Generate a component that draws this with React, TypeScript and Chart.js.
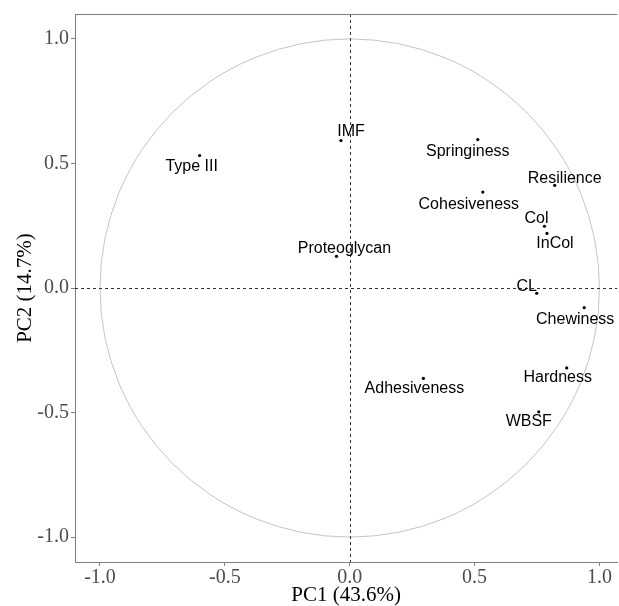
import React, { useEffect, useRef } from "react";
import { Chart, registerables } from "chart.js";

Chart.register(...registerables);

const variableNames = [
  "Type III", "IMF", "Proteoglycan", "Springiness", "Resilience", "Cohesiveness",
  "Col", "InCol", "CL", "Chewiness", "Hardness", "Adhesiveness", "WBSF",
];
const pc1Loadings = [-0.601, -0.035, -0.053, 0.513, 0.821, 0.533, 0.78, 0.79, 0.749, 0.939, 0.869, 0.295, 0.757];
const pc2Loadings = [0.532, 0.592, 0.127, 0.596, 0.412, 0.385, 0.248, 0.219, -0.021, -0.079, -0.321, -0.363, -0.497];
const axisTicks = [-1.0, -0.5, 0.0, 0.5, 1.0];
const xTitle = "PC1 (43.6%)";
const yTitle = "PC2 (14.7%)";

// label placement offsets in pixels (repelled labels), kept apart from data
const labelOffsets: [number, number][] = [
  [-8, 11], [10, -9], [8, -8], [-10, 12], [10, -7], [-14, 12],
  [-8, -8], [8, 10], [-10, -7], [-9, 12], [-9, 10], [-9, 10], [-10, 10],
];

export default function App() {
  const ref = useRef<HTMLCanvasElement | null>(null);
  useEffect(() => {
    if (!ref.current) return;
    const points = pc1Loadings.map((x, i) => ({ x, y: pc2Loadings[i] }));

    const backgroundPlugin = {
      id: "pcaDecor",
      beforeDatasetsDraw(chart: any) {
        const { ctx, chartArea, scales } = chart;
        const xs = scales.x, ys = scales.y;
        ctx.save();
        ctx.beginPath();
        ctx.rect(chartArea.left, chartArea.top, chartArea.right - chartArea.left, chartArea.bottom - chartArea.top);
        ctx.clip();
        // unit circle
        const cx = xs.getPixelForValue(0), cy = ys.getPixelForValue(0);
        const rx = Math.abs(xs.getPixelForValue(1) - cx);
        const ry = Math.abs(ys.getPixelForValue(1) - cy);
        ctx.beginPath();
        ctx.ellipse(cx, cy, rx, ry, 0, 0, Math.PI * 2);
        ctx.strokeStyle = "#c4c4c4";
        ctx.lineWidth = 1;
        ctx.stroke();
        // dashed zero lines
        ctx.setLineDash([3, 3]);
        ctx.strokeStyle = "#333333";
        ctx.lineWidth = 1;
        ctx.beginPath();
        ctx.moveTo(Math.round(cx) + 0.5, chartArea.top);
        ctx.lineTo(Math.round(cx) + 0.5, chartArea.bottom);
        ctx.moveTo(chartArea.left, Math.round(cy) + 0.5);
        ctx.lineTo(chartArea.right, Math.round(cy) + 0.5);
        ctx.stroke();
        ctx.restore();
        // top border
        ctx.save();
        ctx.strokeStyle = "#7f7f7f";
        ctx.lineWidth = 1;
        ctx.beginPath();
        ctx.moveTo(chartArea.left, chartArea.top + 0.5);
        ctx.lineTo(chartArea.right, chartArea.top + 0.5);
        ctx.stroke();
        ctx.restore();
      },
      afterDatasetsDraw(chart: any) {
        const { ctx } = chart;
        const meta = chart.getDatasetMeta(0);
        ctx.save();
        ctx.font = '16px "Liberation Sans", Arial, sans-serif';
        ctx.fillStyle = "#000000";
        ctx.textAlign = "center";
        ctx.textBaseline = "middle";
        meta.data.forEach((el: any, i: number) => {
          const [dx, dy] = labelOffsets[i];
          ctx.fillText(variableNames[i], el.x + dx, el.y + dy);
        });
        ctx.restore();
      },
    };

    const tickFont = { family: '"Liberation Serif", "Times New Roman", serif', size: 20 };
    const titleFont = { family: '"Liberation Serif", "Times New Roman", serif', size: 21, lineHeight: 1 };

    const chart = new Chart(ref.current, {
      type: "scatter",
      data: {
        datasets: [
          {
            data: points,
            pointRadius: 1.6,
            pointBackgroundColor: "#000000",
            pointBorderColor: "#000000",
            pointBorderWidth: 0,
            pointHoverRadius: 1.6,
          },
        ],
      },
      options: {
        animation: false,
        responsive: true,
        maintainAspectRatio: false,
        layout: { padding: { left: 0, top: 12, right: 0, bottom: 0 } },
        plugins: { legend: { display: false }, tooltip: { enabled: false } },
        scales: {
          x: {
            type: "linear",
            min: -1.1,
            max: 1.072,
            afterBuildTicks: (s: any) => { s.ticks = axisTicks.map((v) => ({ value: v })); },
            afterFit: (s: any) => { s.height = 44; },
            ticks: {
              font: tickFont,
              color: "#4d4d4d",
              padding: 0,
              maxRotation: 0,
              callback: (v: any) => Number(v).toFixed(1),
            },
            grid: { drawOnChartArea: false, drawTicks: true, tickLength: 4, color: "#7f7f7f" },
            border: { display: true, color: "#7f7f7f", width: 1 },
            title: { display: true, text: xTitle, font: titleFont, color: "#000000", padding: { top: 0, bottom: 0 } },
          },
          y: {
            type: "linear",
            min: -1.1,
            max: 1.1,
            afterBuildTicks: (s: any) => { s.ticks = axisTicks.map((v) => ({ value: v })); },
            afterFit: (s: any) => { s.width = 75; },
            ticks: {
              font: tickFont,
              color: "#4d4d4d",
              padding: 2,
              callback: (v: any) => Number(v).toFixed(1),
            },
            grid: { drawOnChartArea: false, drawTicks: true, tickLength: 4, color: "#7f7f7f" },
            border: { display: true, color: "#7f7f7f", width: 1 },
            title: { display: true, text: yTitle, font: titleFont, color: "#000000", padding: { top: 15, bottom: 0 } },
          },
        },
      },
      plugins: [backgroundPlugin],
    });
    return () => chart.destroy();
  }, []);

  return (
    <div style={{ position: "fixed", left: 0, top: 0, width: 619, height: 606, background: "#ffffff" }}>
      <canvas ref={ref} />
    </div>
  );
}
